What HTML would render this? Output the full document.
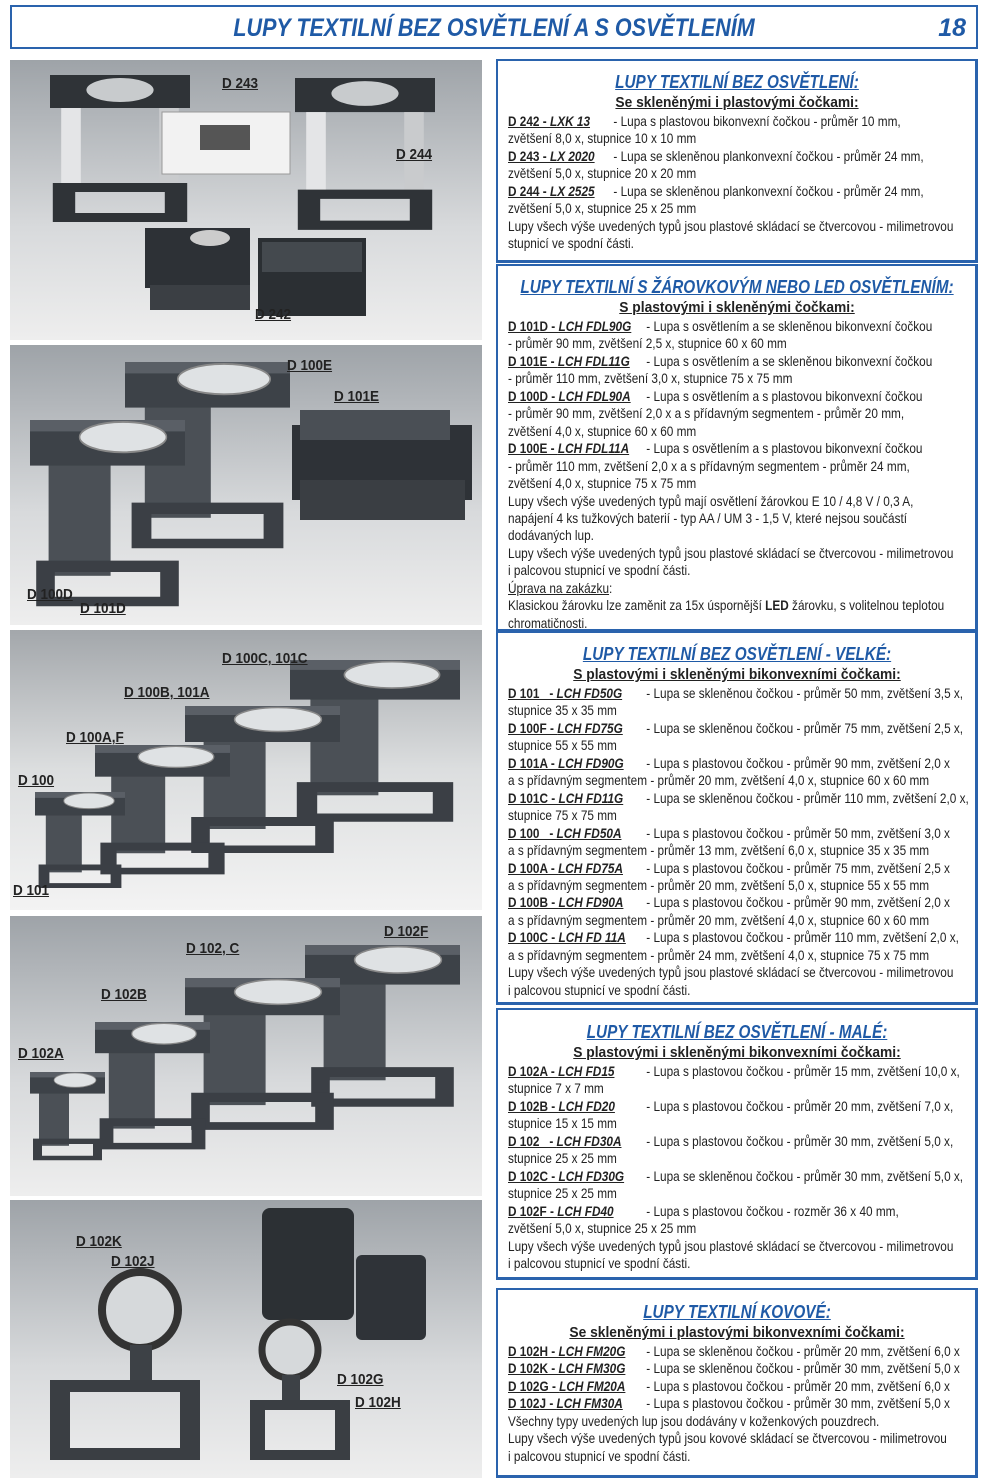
<!DOCTYPE html>
<html><head><meta charset="utf-8"><style>
*{margin:0;padding:0;box-sizing:border-box}
body{width:1000px;height:1482px;background:#fff;position:relative;overflow:hidden;font-family:"Liberation Sans",sans-serif;color:#222}
.hdr{position:absolute;left:10px;top:5px;width:968px;height:44px;border:2px solid #2a63ad}
.hdr .t{position:absolute;left:0;right:0;top:7px;text-align:center;font:italic bold 25px "Liberation Sans",sans-serif;color:#1f5aa6;white-space:nowrap}
.hdr .t span{display:inline-block;transform:scaleX(0.86)}
.hdr .n{position:absolute;right:10px;top:7px;font:italic bold 25px "Liberation Sans",sans-serif;color:#1f5aa6}
.ph{position:absolute;left:10px;width:472px;background:linear-gradient(#9ea3a8,#d8dadc 60%,#eeeeee)}
.lab{position:absolute;font:bold 15px "Liberation Sans",sans-serif;text-decoration:underline;color:#222;white-space:nowrap;transform:scaleX(0.9);transform-origin:left}
.box{position:absolute;left:496px;width:482px;border:2px solid #2a63ad;border-right-width:3px;border-bottom-width:3px}
.box .h1,.box .h2{position:absolute;left:0;right:0;height:22px}
.box .h1 span,.box .h2 span{position:absolute;left:50%;white-space:nowrap;text-decoration:underline}
.box .h1 span{font:italic bold 18px "Liberation Sans",sans-serif;color:#1f5aa6;transform:translateX(-50%) scaleX(0.85)}
.box .h2 span{font:bold 15px "Liberation Sans",sans-serif;color:#222;transform:translateX(-50%) scaleX(0.92)}
.box .tx{position:absolute;left:10px;font-size:14px;line-height:17.45px;white-space:nowrap;transform:scaleX(0.843);transform-origin:left top}
.c{display:inline-block;font-weight:bold;text-decoration:underline}
.c i{font-style:italic}
.w1 .c{width:125px}.w2 .c{width:164px}
</style></head><body>
<div class="hdr"><div class="t"><span>LUPY TEXTILNÍ BEZ OSVĚTLENÍ A S OSVĚTLENÍM</span></div><div class="n">18</div></div>

<svg width="0" height="0" style="position:absolute">
<defs>
<symbol id="m" viewBox="0 0 100 100" preserveAspectRatio="none">
<rect x="12" y="22" width="40" height="60" fill="#4b5056"/>
<path d="M4 74 L96 74 L96 98 L4 98 Z M16 80 L84 80 L84 93 L16 93 Z" fill="#3b3f45" fill-rule="evenodd"/>
<rect x="0" y="0" width="100" height="24" fill="#3d4248"/>
<rect x="0" y="0" width="100" height="6" fill="#5a5f66"/>
<ellipse cx="60" cy="9" rx="28" ry="8" fill="#dfe2e4" stroke="#888" stroke-width="1"/>
</symbol>
<symbol id="sq" viewBox="0 0 100 100" preserveAspectRatio="none">
<rect x="0" y="0" width="100" height="22" fill="#2f3337"/>
<ellipse cx="50" cy="10" rx="24" ry="8" fill="#c8cbcd"/>
<rect x="8" y="22" width="14" height="52" fill="#e4e5e7"/><rect x="78" y="22" width="14" height="52" fill="#c9cbcd"/>
<path d="M2 72 L98 72 L98 98 L2 98 Z M18 78 L82 78 L82 92 L18 92 Z" fill="#2f3337" fill-rule="evenodd"/>
</symbol>
</defs></svg>

<!-- photo 1 -->
<div class="ph" style="top:60px;height:280px"></div>
<svg style="position:absolute;left:0;top:0" width="490" height="1482">
<use href="#sq" x="50" y="75" width="140" height="150"/>
<use href="#sq" x="295" y="78" width="140" height="155"/>
<rect x="162" y="112" width="128" height="62" fill="#f2f2f2" stroke="#999"/>
<rect x="200" y="125" width="50" height="25" fill="#555"/>
<rect x="145" y="228" width="105" height="60" fill="#2d3136"/>
<ellipse cx="210" cy="238" rx="20" ry="8" fill="#ccc"/>
<rect x="150" y="285" width="100" height="25" fill="#3b3f44"/>
<rect x="258" y="238" width="108" height="78" fill="#2b2f33"/>
<rect x="262" y="242" width="100" height="30" fill="#44494e"/>
</svg>
<div class="lab" style="left:222px;top:75px">D 243</div>
<div class="lab" style="left:396px;top:146px">D 244</div>
<div class="lab" style="left:255px;top:306px">D 242</div>

<!-- photo 2 -->
<div class="ph" style="top:345px;height:280px"></div>
<svg style="position:absolute;left:0;top:0" width="490" height="1482">
<use href="#m" x="125" y="362" width="165" height="190"/>
<use href="#m" x="30" y="420" width="155" height="190"/>
<rect x="292" y="425" width="180" height="75" fill="#2e3237"/>
<rect x="300" y="410" width="150" height="30" fill="#4a4f55"/>
<rect x="300" y="480" width="165" height="40" fill="#3a3e43"/>
</svg>
<div class="lab" style="left:287px;top:357px">D 100E</div>
<div class="lab" style="left:334px;top:388px">D 101E</div>
<div class="lab" style="left:27px;top:586px">D 100D</div>
<div class="lab" style="left:80px;top:600px">D 101D</div>

<!-- photo 3 -->
<div class="ph" style="top:630px;height:280px;background:linear-gradient(#a3a7ab,#dcdedf 50%,#f3f3f3)"></div>
<svg style="position:absolute;left:0;top:0" width="490" height="1482">
<use href="#m" x="290" y="660" width="170" height="165"/>
<use href="#m" x="185" y="706" width="155" height="150"/>
<use href="#m" x="95" y="745" width="135" height="132"/>
<use href="#m" x="35" y="792" width="90" height="98"/>
</svg>
<div class="lab" style="left:222px;top:650px">D 100C, 101C</div>
<div class="lab" style="left:124px;top:684px">D 100B, 101A</div>
<div class="lab" style="left:66px;top:729px">D 100A,F</div>
<div class="lab" style="left:18px;top:772px">D 100</div>
<div class="lab" style="left:13px;top:882px">D 101</div>

<!-- photo 4 -->
<div class="ph" style="top:916px;height:280px"></div>
<svg style="position:absolute;left:0;top:0" width="490" height="1482">
<use href="#m" x="305" y="945" width="155" height="165"/>
<use href="#m" x="185" y="978" width="155" height="155"/>
<use href="#m" x="95" y="1022" width="115" height="130"/>
<use href="#m" x="30" y="1072" width="75" height="90"/>
</svg>
<div class="lab" style="left:384px;top:923px">D 102F</div>
<div class="lab" style="left:186px;top:940px">D 102, C</div>
<div class="lab" style="left:101px;top:986px">D 102B</div>
<div class="lab" style="left:18px;top:1045px">D 102A</div>

<!-- photo 5 -->
<div class="ph" style="top:1200px;height:278px"></div>
<svg style="position:absolute;left:0;top:0" width="490" height="1482">
<rect x="262" y="1208" width="92" height="112" rx="8" fill="#2c3034"/>
<rect x="356" y="1255" width="70" height="85" rx="6" fill="#2f3338"/>
<circle cx="140" cy="1310" r="38" fill="#d6d9db" stroke="#333" stroke-width="8"/>
<rect x="130" y="1345" width="22" height="40" fill="#3d4146"/>
<path d="M50 1380 L200 1380 L200 1460 L50 1460 Z M70 1392 L180 1392 L180 1448 L70 1448 Z" fill="#3a3e43" fill-rule="evenodd"/>
<circle cx="290" cy="1350" r="28" fill="#d6d9db" stroke="#333" stroke-width="7"/>
<rect x="282" y="1375" width="18" height="32" fill="#3d4146"/>
<path d="M250 1400 L350 1400 L350 1460 L250 1460 Z M265 1410 L335 1410 L335 1450 L265 1450 Z" fill="#3a3e43" fill-rule="evenodd"/>
</svg>
<div class="lab" style="left:76px;top:1233px">D 102K</div>
<div class="lab" style="left:111px;top:1253px">D 102J</div>
<div class="lab" style="left:337px;top:1371px">D 102G</div>
<div class="lab" style="left:355px;top:1394px">D 102H</div>

<!-- box 1 -->
<div class="box" style="top:59px;height:204px">
<div class="h1" style="top:11px"><span>LUPY TEXTILNÍ BEZ OSVĚTLENÍ:</span></div>
<div class="h2" style="top:33px"><span>Se skleněnými i plastovými čočkami:</span></div>
<div class="tx w1" style="top:52px">
<div><span class="c">D 242 - <i>LXK 13</i></span>- Lupa s plastovou bikonvexní čočkou - průměr 10 mm,</div>
<div>zvětšení 8,0 x, stupnice 10 x 10 mm</div>
<div><span class="c">D 243 - <i>LX 2020</i></span>- Lupa se skleněnou plankonvexní čočkou - průměr 24 mm,</div>
<div>zvětšení 5,0 x, stupnice 20 x 20 mm</div>
<div><span class="c">D 244 - <i>LX 2525</i></span>- Lupa se skleněnou plankonvexní čočkou - průměr 24 mm,</div>
<div>zvětšení 5,0 x, stupnice 25 x 25 mm</div>
<div>Lupy všech výše uvedených typů jsou plastové skládací se čtvercovou - milimetrovou</div>
<div>stupnicí ve spodní části.</div>
</div></div>

<!-- box 2 -->
<div class="box" style="top:264px;height:368px">
<div class="h1" style="top:11px"><span>LUPY TEXTILNÍ S ŽÁROVKOVÝM NEBO LED OSVĚTLENÍM:</span></div>
<div class="h2" style="top:33px"><span>S plastovými i skleněnými čočkami:</span></div>
<div class="tx w2" style="top:52px">
<div><span class="c">D 101D - <i>LCH FDL90G</i></span>- Lupa s osvětlením a se skleněnou bikonvexní čočkou</div>
<div>- průměr 90 mm, zvětšení 2,5 x, stupnice 60 x 60 mm</div>
<div><span class="c">D 101E - <i>LCH FDL11G</i></span>- Lupa s osvětlením a se skleněnou bikonvexní čočkou</div>
<div>- průměr 110 mm, zvětšení 3,0 x, stupnice 75 x 75 mm</div>
<div><span class="c">D 100D - <i>LCH FDL90A</i></span>- Lupa s osvětlením a s plastovou bikonvexní čočkou</div>
<div>- průměr 90 mm, zvětšení 2,0 x a s přídavným segmentem - průměr 20 mm,</div>
<div>zvětšení 4,0 x, stupnice 60 x 60 mm</div>
<div><span class="c">D 100E - <i>LCH FDL11A</i></span>- Lupa s osvětlením a s plastovou bikonvexní čočkou</div>
<div>- průměr 110 mm, zvětšení 2,0 x a s přídavným segmentem - průměr 24 mm,</div>
<div>zvětšení 4,0 x, stupnice 75 x 75 mm</div>
<div>Lupy všech výše uvedených typů mají osvětlení žárovkou E 10 / 4,8 V / 0,3 A,</div>
<div>napájení 4 ks tužkových baterií - typ AA / UM 3 - 1,5 V, které nejsou součástí</div>
<div>dodávaných lup.</div>
<div>Lupy všech výše uvedených typů jsou plastové skládací se čtvercovou - milimetrovou</div>
<div>i palcovou stupnicí ve spodní části.</div>
<div><u>Úprava na zakázku</u>:</div>
<div>Klasickou žárovku lze zaměnit za 15x úspornější <b>LED</b> žárovku, s volitelnou teplotou</div>
<div>chromatičnosti.</div>
</div></div>

<!-- box 3 -->
<div class="box" style="top:631px;height:374px">
<div class="h1" style="top:11px"><span>LUPY TEXTILNÍ BEZ OSVĚTLENÍ - VELKÉ:</span></div>
<div class="h2" style="top:33px"><span>S plastovými i skleněnými bikonvexními čočkami:</span></div>
<div class="tx w2" style="top:52px">
<div><span class="c">D 101&nbsp;&nbsp;&nbsp;- <i>LCH FD50G</i></span>- Lupa se skleněnou čočkou - průměr 50 mm, zvětšení 3,5 x,</div>
<div>stupnice 35 x 35 mm</div>
<div><span class="c">D 100F - <i>LCH FD75G</i></span>- Lupa se skleněnou čočkou - průměr 75 mm, zvětšení 2,5 x,</div>
<div>stupnice 55 x 55 mm</div>
<div><span class="c">D 101A - <i>LCH FD90G</i></span>- Lupa s plastovou čočkou - průměr 90 mm, zvětšení 2,0 x</div>
<div>a s přídavným segmentem - průměr 20 mm, zvětšení 4,0 x, stupnice 60 x 60 mm</div>
<div><span class="c">D 101C - <i>LCH FD11G</i></span>- Lupa se skleněnou čočkou - průměr 110 mm, zvětšení 2,0 x,</div>
<div>stupnice 75 x 75 mm</div>
<div><span class="c">D 100&nbsp;&nbsp;&nbsp;- <i>LCH FD50A</i></span>- Lupa s plastovou čočkou - průměr 50 mm, zvětšení 3,0 x</div>
<div>a s přídavným segmentem - průměr 13 mm, zvětšení 6,0 x, stupnice 35 x 35 mm</div>
<div><span class="c">D 100A - <i>LCH FD75A</i></span>- Lupa s plastovou čočkou - průměr 75 mm, zvětšení 2,5 x</div>
<div>a s přídavným segmentem - průměr 20 mm, zvětšení 5,0 x, stupnice 55 x 55 mm</div>
<div><span class="c">D 100B - <i>LCH FD90A</i></span>- Lupa s plastovou čočkou - průměr 90 mm, zvětšení 2,0 x</div>
<div>a s přídavným segmentem - průměr 20 mm, zvětšení 4,0 x, stupnice 60 x 60 mm</div>
<div><span class="c">D 100C - <i>LCH FD 11A</i></span>- Lupa s plastovou čočkou - průměr 110 mm, zvětšení 2,0 x,</div>
<div>a s přídavným segmentem - průměr 24 mm, zvětšení 4,0 x, stupnice 75 x 75 mm</div>
<div>Lupy všech výše uvedených typů jsou plastové skládací se čtvercovou - milimetrovou</div>
<div>i palcovou stupnicí ve spodní části.</div>
</div></div>

<!-- box 4 -->
<div class="box" style="top:1008px;height:272px">
<div class="h1" style="top:12px"><span>LUPY TEXTILNÍ BEZ OSVĚTLENÍ - MALÉ:</span></div>
<div class="h2" style="top:34px"><span>S plastovými i skleněnými bikonvexními čočkami:</span></div>
<div class="tx w2" style="top:53px">
<div><span class="c">D 102A - <i>LCH FD15</i></span>- Lupa s plastovou čočkou - průměr 15 mm, zvětšení 10,0 x,</div>
<div>stupnice 7 x 7 mm</div>
<div><span class="c">D 102B - <i>LCH FD20</i></span>- Lupa s plastovou čočkou - průměr 20 mm, zvětšení 7,0 x,</div>
<div>stupnice 15 x 15 mm</div>
<div><span class="c">D 102&nbsp;&nbsp;&nbsp;- <i>LCH FD30A</i></span>- Lupa s plastovou čočkou - průměr 30 mm, zvětšení 5,0 x,</div>
<div>stupnice 25 x 25 mm</div>
<div><span class="c">D 102C - <i>LCH FD30G</i></span>- Lupa se skleněnou čočkou - průměr 30 mm, zvětšení 5,0 x,</div>
<div>stupnice 25 x 25 mm</div>
<div><span class="c">D 102F - <i>LCH FD40</i></span>- Lupa s plastovou čočkou - rozměr 36 x 40 mm,</div>
<div>zvětšení 5,0 x, stupnice 25 x 25 mm</div>
<div>Lupy všech výše uvedených typů jsou plastové skládací se čtvercovou - milimetrovou</div>
<div>i palcovou stupnicí ve spodní části.</div>
</div></div>

<!-- box 5 -->
<div class="box" style="top:1288px;height:190px">
<div class="h1" style="top:12px"><span>LUPY TEXTILNÍ KOVOVÉ:</span></div>
<div class="h2" style="top:34px"><span>Se skleněnými i plastovými bikonvexními čočkami:</span></div>
<div class="tx w2" style="top:53px">
<div><span class="c">D 102H - <i>LCH FM20G</i></span>- Lupa se skleněnou čočkou - průměr 20 mm, zvětšení 6,0 x</div>
<div><span class="c">D 102K - <i>LCH FM30G</i></span>- Lupa se skleněnou čočkou - průměr 30 mm, zvětšení 5,0 x</div>
<div><span class="c">D 102G - <i>LCH FM20A</i></span>- Lupa s plastovou čočkou - průměr 20 mm, zvětšení 6,0 x</div>
<div><span class="c">D 102J - <i>LCH FM30A</i></span>- Lupa s plastovou čočkou - průměr 30 mm, zvětšení 5,0 x</div>
<div>Všechny typy uvedených lup jsou dodávány v koženkových pouzdrech.</div>
<div>Lupy všech výše uvedených typů jsou kovové skládací se čtvercovou - milimetrovou</div>
<div>i palcovou stupnicí ve spodní části.</div>
</div></div>
</body></html>
